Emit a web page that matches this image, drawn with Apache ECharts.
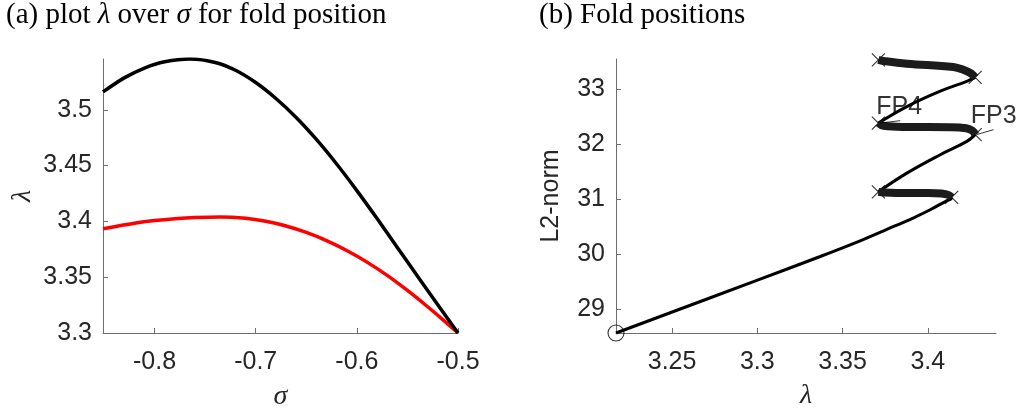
<!DOCTYPE html>
<html><head><meta charset="utf-8">
<script src="https://cdn.jsdelivr.net/npm/echarts@6/dist/echarts.min.js"></script>
<style>html,body{margin:0;padding:0;background:#fff}#c{width:1018px;height:409px}</style>
</head><body><div id="c"></div>
<script>
// ---- (a) lambda over sigma ----
const sigmaBlack  = [-0.851, -0.83, -0.81, -0.79, -0.765, -0.74, -0.72, -0.70, -0.68, -0.66, -0.64, -0.62, -0.60, -0.58, -0.56, -0.54, -0.52, -0.50];
const lambdaBlack = [3.516, 3.5286, 3.5374, 3.543, 3.5455, 3.5424, 3.5354, 3.5244, 3.5101, 3.4931, 3.4734, 3.4514, 3.4276, 3.4025, 3.3767, 3.3508, 3.3253, 3.3];
const sigmaRed    = [-0.851, -0.82, -0.80, -0.78, -0.76, -0.735, -0.71, -0.69, -0.67, -0.65, -0.63, -0.61, -0.59, -0.57, -0.55, -0.53, -0.515, -0.50];
const lambdaRed   = [3.3934, 3.3983, 3.4007, 3.4024, 3.4035, 3.404, 3.4028, 3.4001, 3.3959, 3.3901, 3.3828, 3.3739, 3.3635, 3.3516, 3.3381, 3.3235, 3.312, 3.3];
const xTicksA = [-0.8, -0.7, -0.6, -0.5];
const yTicksA = [3.3, 3.35, 3.4, 3.45, 3.5];

// ---- (b) fold positions: branch pieces (lambda, L2-norm) ----
const thinLam1 = [3.2171, 3.2997, 3.3369, 3.3603, 3.376, 3.392, 3.4014, 3.411, 3.4135, 3.414];
const thinL21  = [28.564, 29.52, 29.955, 30.24, 30.447, 30.663, 30.804, 30.967, 31.0, 31.03];
const thickLam1 = [3.414, 3.412, 3.408, 3.400, 3.3877, 3.374, 3.371];
const thickL21  = [31.03, 31.075, 31.10, 31.11, 31.11, 31.12, 31.13];
const thinLam2 = [3.371, 3.3877, 3.4073, 3.4229, 3.4278];
const thinL22  = [31.13, 31.47, 31.805, 32.047, 32.17];
const thickLam2 = [3.4278, 3.4262, 3.4225, 3.413, 3.3877, 3.374, 3.371];
const thickL22  = [32.17, 32.24, 32.285, 32.305, 32.31, 32.33, 32.38];
const thinLam3 = [3.371, 3.3877, 3.4073, 3.4229, 3.4278];
const thinL23  = [32.38, 32.68, 32.96, 33.14, 33.21];
const thickLam3 = [3.4278, 3.4255, 3.4215, 3.415, 3.3877, 3.374, 3.371];
const thickL23  = [33.21, 33.28, 33.34, 33.40, 33.46, 33.51, 33.53];
const foldLam = [3.414, 3.371, 3.4278, 3.371, 3.4278, 3.371];
const foldL2  = [31.03, 31.13, 32.17, 32.38, 33.21, 33.53];
const startLam = [3.2171];
const startL2  = [28.564];
const fpNames = ['FP4', 'FP3'];
const fpTextLam = [3.3832, 3.4386];
const fpTextL2  = [32.67, 32.51];
const fpArrowFromLam = [3.372, 3.4285];
const fpArrowFromL2  = [32.38, 32.17];
const fpArrowToLam = [3.3838, 3.4386];
const fpArrowToL2  = [32.424, 32.26];
const xTicksB = [3.25, 3.3, 3.35, 3.4];
const yTicksB = [29, 30, 31, 32, 33];

const zip = (a, b) => a.map((v, i) => [v, b[i]]);

const tickColor = '#262626';
const axisLineColor = '#6e6e6e';
const sans = 'Liberation Sans';
const serif = 'Liberation Serif';

function makeAxis(type, min, max, ticks, extra) {
  return Object.assign({
    type: 'value', min: min, max: max,
    axisLine: { show: true, onZero: false, lineStyle: { color: axisLineColor, width: 1 } },
    axisTick: { show: true, inside: true, length: 5, customValues: ticks, lineStyle: { color: axisLineColor } },
    axisLabel: { customValues: ticks, color: tickColor, fontFamily: sans, fontSize: 25, margin: type === 'x' ? 17 : 11 },
    splitLine: { show: false }
  }, extra);
}

const thin = (lam, l2) => ({ type: 'line', xAxisIndex: 1, yAxisIndex: 1, data: zip(lam, l2), showSymbol: false, smooth: 0.4,
  lineStyle: { color: '#000', width: 3 } });
const thick = (lam, l2) => ({ type: 'line', xAxisIndex: 1, yAxisIndex: 1, data: zip(lam, l2), showSymbol: false, smooth: 0.4,
  lineStyle: { color: '#1c1c1c', width: 8 } });

const option = {
  animation: false,
  backgroundColor: '#fff',
  title: [
    { left: 6, top: 1, padding: 0, text: '(a) plot {i|λ} over {i|σ} for fold position',
      textStyle: { fontFamily: serif, fontSize: 29, fontWeight: 'normal', color: '#000',
        rich: { i: { fontFamily: serif, fontStyle: 'italic', fontSize: 29, color: '#000' } } } },
    { left: 539, top: 1, padding: 0, text: '(b) Fold positions',
      textStyle: { fontFamily: serif, fontSize: 29, fontWeight: 'normal', color: '#000' } }
  ],
  grid: [
    { left: 103, top: 59, width: 355, height: 274, outerBoundsMode: 'none', containLabel: false },
    { left: 616, top: 59, width: 380, height: 274, outerBoundsMode: 'none', containLabel: false }
  ],
  xAxis: [
    makeAxis('x', -0.851, -0.5, xTicksA, { gridIndex: 0, name: 'σ', nameLocation: 'middle', nameGap: 50,
      nameTextStyle: { fontFamily: serif, fontStyle: 'italic', fontSize: 28, color: tickColor } }),
    makeAxis('x', 3.2171, 3.44, xTicksB, { gridIndex: 1, name: 'λ', nameLocation: 'middle', nameGap: 49,
      nameTextStyle: { fontFamily: serif, fontStyle: 'italic', fontSize: 28, color: tickColor } })
  ],
  yAxis: [
    makeAxis('y', 3.3, 3.5455, yTicksA, { gridIndex: 0, name: 'λ', nameLocation: 'middle', nameGap: 66, nameRotate: 90,
      nameTextStyle: { fontFamily: serif, fontStyle: 'italic', fontSize: 28, color: tickColor } }),
    makeAxis('y', 28.564, 33.545, yTicksB, { gridIndex: 1, name: 'L2-norm', nameLocation: 'middle', nameGap: 52, nameRotate: 90,
      nameTextStyle: { fontFamily: sans, fontSize: 25, color: tickColor } })
  ],
  series: [
    { type: 'line', xAxisIndex: 0, yAxisIndex: 0, data: zip(sigmaRed, lambdaRed), showSymbol: false, smooth: 0.3,
      lineStyle: { color: '#ff0000', width: 3.5 } },
    { type: 'line', xAxisIndex: 0, yAxisIndex: 0, data: zip(sigmaBlack, lambdaBlack), showSymbol: false, smooth: 0.3,
      lineStyle: { color: '#000', width: 3.5 } },

    thin(thinLam1, thinL21), thin(thinLam2, thinL22), thin(thinLam3, thinL23),
    thick(thickLam1, thickL21), thick(thickLam2, thickL22), thick(thickLam3, thickL23),

    { type: 'scatter', xAxisIndex: 1, yAxisIndex: 1, data: zip(foldLam, foldL2), clip: false,
      symbol: 'path://M0,0 L10,10 M10,0 L0,10', symbolSize: 13,
      itemStyle: { color: 'none', borderColor: '#000', borderWidth: 1.1 } },
    { type: 'scatter', xAxisIndex: 1, yAxisIndex: 1, data: zip(startLam, startL2), clip: false,
      symbol: 'circle', symbolSize: 16,
      itemStyle: { color: 'rgba(0,0,0,0)', borderColor: '#000', borderWidth: 1.1 } },

    ...fpNames.map((n, i) => ({ type: 'line', xAxisIndex: 1, yAxisIndex: 1, clip: false, showSymbol: false,
      data: [[fpArrowFromLam[i], fpArrowFromL2[i]], [fpArrowToLam[i], fpArrowToL2[i]]],
      lineStyle: { color: '#000', width: 0.8 } })),
    { type: 'scatter', xAxisIndex: 1, yAxisIndex: 1, clip: false, symbolSize: 0,
      data: fpNames.map((n, i) => ({ name: n, value: [fpTextLam[i], fpTextL2[i]] })),
      label: { show: true, position: 'inside', formatter: p => p.name, fontFamily: sans, fontSize: 25, color: '#000' } }
  ]
};
echarts.init(document.getElementById('c')).setOption(option);
</script></body></html>
